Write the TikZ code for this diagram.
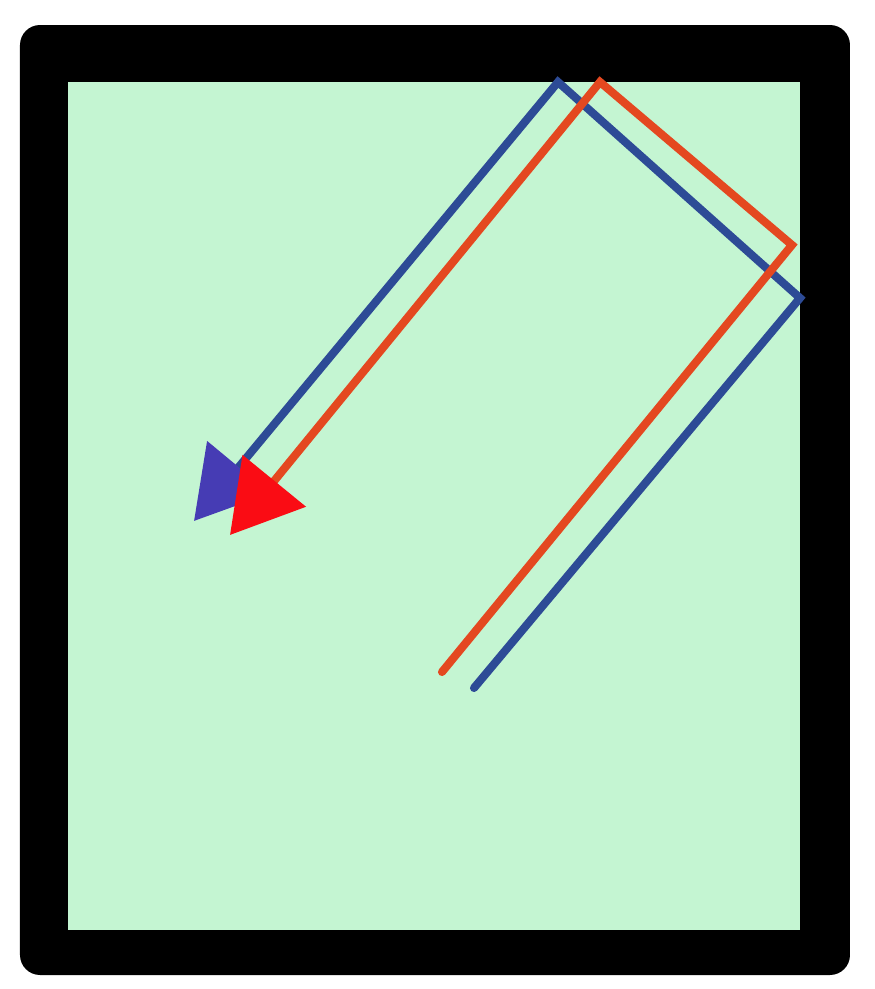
\documentclass[tikz,border=0pt]{standalone}
\usepackage{xcolor}
\usepackage{tikz}
\usetikzlibrary{arrows.meta}
\definecolor{tankgreen}{RGB}{196,245,210}
\definecolor{raysblue}{RGB}{45,75,150}
\definecolor{raysred}{RGB}{228,72,32}
\definecolor{tipblue}{RGB}{70,60,180}
\definecolor{tipred}{RGB}{250,12,20}

\begin{document}
\begin{tikzpicture}[x=1cm, y=1cm,
    ray/.style={line width=2.3pt, line cap=round, line join=miter},
    blueray/.style={ray, raysblue, -{Triangle[length=7mm, width=8mm, color=tipblue]}},
    redray/.style={ray, raysred, -{Triangle[length=7mm, width=8mm, color=tipred]}}]
  \useasboundingbox (0,0) rectangle (8.75,9.89);
  % frame and water
  \fill[black, rounded corners=2mm] (0.20,0.14) rectangle (8.50,9.64);
  \fill[tankgreen] (0.68,0.59) rectangle (8.00,9.07);
  % bounce points
  \coordinate (bstart) at (4.74,3.01);
  \coordinate (bright) at (8.00,6.91);
  \coordinate (btop)   at (5.58,9.07);
  \coordinate (btip)   at (1.94,4.68);
  \coordinate (rstart) at (4.42,3.17);
  \coordinate (rright) at (7.92,7.44);
  \coordinate (rtop)   at (6.00,9.07);
  \coordinate (rtip)   at (2.30,4.54);
  % rays
  \draw[blueray] (bstart) -- (bright) -- (btop) -- (btip);
  \draw[redray]  (rstart) -- (rright) -- (rtop) -- (rtip);
\end{tikzpicture}
\end{document}
